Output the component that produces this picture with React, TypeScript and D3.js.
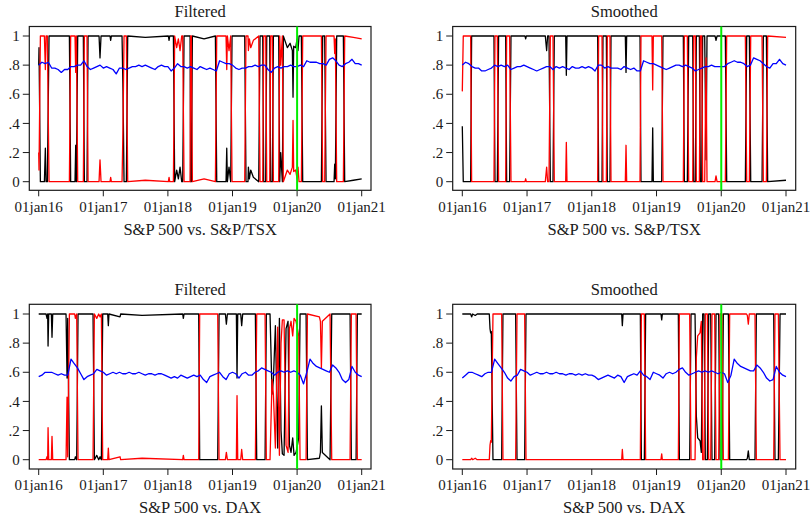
import React from 'react';
import * as d3 from 'd3';

// x axis: dates as decimal years
const yearTicks = [2016, 2017, 2018, 2019, 2020, 2021];
const yearLabels = ['01jan16', '01jan17', '01jan18', '01jan19', '01jan20', '01jan21'];
const probTicks = [0, 0.2, 0.4, 0.6, 0.8, 1];
const probLabels = ['0', '.2', '.4', '.6', '.8', '1'];
const breakDate = 2020; // green marker

// regime probabilities: [date, black (regime 1), red (regime 2)]
const tsxFiltered = [
  [2016.000, 0.80, 0.20], [2016.005, 0.92, 0.08], [2016.026, 0.00, 1.00], [2016.088, 0.00, 1.00],
  [2016.103, 0.23, 0.77], [2016.114, 0.00, 1.00], [2016.134, 0.00, 1.00], [2016.160, 1.00, 0.00],
  [2016.475, 1.00, 0.00], [2016.495, 0.00, 1.00], [2016.562, 0.00, 1.00], [2016.573, 0.25, 0.75],
  [2016.583, 0.00, 1.00], [2016.604, 1.00, 0.00], [2016.691, 1.00, 0.00], [2016.707, 0.00, 1.00],
  [2016.748, 0.00, 1.00], [2016.764, 1.00, 0.00], [2016.934, 1.00, 0.00], [2016.949, 0.85, 0.15],
  [2016.965, 1.00, 0.00], [2017.104, 1.00, 0.00], [2017.114, 0.97, 0.03], [2017.125, 1.00, 0.00],
  [2017.290, 1.00, 0.00], [2017.305, 0.62, 0.38], [2017.321, 0.00, 1.00], [2017.357, 0.00, 1.00],
  [2017.378, 1.00, 0.00], [2017.650, 0.99, 0.01], [2018.007, 1.00, 0.00], [2018.018, 0.97, 0.03],
  [2018.028, 1.00, 0.00], [2018.085, 1.00, 0.00], [2018.105, 0.00, 1.00], [2018.136, 0.08, 0.92],
  [2018.162, 0.02, 0.98], [2018.188, 0.10, 0.90], [2018.214, 0.00, 1.00], [2018.229, 0.00, 1.00],
  [2018.250, 1.00, 0.00], [2018.343, 1.00, 0.00], [2018.353, 0.00, 1.00], [2018.363, 0.00, 1.00],
  [2018.379, 1.00, 0.00], [2018.560, 0.98, 0.02], [2018.735, 1.00, 0.00], [2018.756, 0.00, 1.00],
  [2018.900, 0.00, 1.00], [2018.911, 0.23, 0.77], [2018.921, 0.00, 1.00], [2018.946, 0.10, 0.90],
  [2018.972, 0.00, 1.00], [2018.993, 1.00, 0.00], [2019.189, 1.00, 0.00], [2019.209, 0.00, 1.00],
  [2019.240, 0.00, 1.00], [2019.246, 0.10, 0.90], [2019.261, 0.02, 0.98], [2019.282, 0.08, 0.92],
  [2019.323, 0.03, 0.97], [2019.406, 0.00, 1.00], [2019.426, 1.00, 0.00], [2019.468, 1.00, 0.00],
  [2019.483, 0.00, 1.00], [2019.514, 0.00, 1.00], [2019.530, 1.00, 0.00], [2019.576, 1.00, 0.00],
  [2019.591, 0.00, 1.00], [2019.617, 0.00, 1.00], [2019.633, 1.00, 0.00], [2019.715, 1.00, 0.00],
  [2019.731, 0.00, 1.00], [2019.746, 0.20, 0.80], [2019.772, 0.00, 1.00], [2019.787, 1.00, 0.00],
  [2019.849, 0.92, 0.08], [2019.891, 0.95, 0.05], [2019.927, 0.90, 0.10], [2019.937, 0.58, 0.42],
  [2019.947, 0.93, 0.07], [2019.978, 0.92, 0.08], [2020.000, 0.98, 0.02], [2020.014, 0.90, 0.10],
  [2020.030, 1.00, 0.00], [2020.066, 1.00, 0.00], [2020.087, 0.00, 1.00], [2020.376, 0.00, 1.00],
  [2020.396, 1.00, 0.00], [2020.427, 1.00, 0.00], [2020.448, 0.00, 1.00], [2020.572, 0.00, 1.00],
  [2020.582, 0.12, 0.88], [2020.592, 0.02, 0.98], [2020.613, 1.00, 0.00], [2020.716, 1.00, 0.00],
  [2020.737, 0.00, 1.00], [2020.871, 0.01, 0.99], [2021.000, 0.02, 0.98],
];

const tsxSmoothed = [
  [2016.000, 0.38, 0.62], [2016.015, 0.00, 1.00], [2016.129, 0.00, 1.00], [2016.144, 1.00, 0.00],
  [2016.489, 1.00, 0.00], [2016.505, 0.00, 1.00], [2016.541, 0.00, 1.00], [2016.561, 1.00, 0.00],
  [2016.670, 1.00, 0.00], [2016.685, 0.00, 1.00], [2016.731, 0.00, 1.00], [2016.752, 1.00, 0.00],
  [2016.968, 1.00, 0.00], [2016.979, 0.98, 0.02], [2016.989, 1.00, 0.00], [2017.282, 1.00, 0.00],
  [2017.303, 0.90, 0.10], [2017.318, 1.00, 0.00], [2017.339, 1.00, 0.00], [2017.360, 0.00, 1.00],
  [2017.401, 0.00, 1.00], [2017.421, 1.00, 0.00], [2017.597, 1.00, 0.00], [2017.607, 0.73, 0.27],
  [2017.617, 1.00, 0.00], [2018.091, 1.00, 0.00], [2018.106, 0.00, 1.00], [2018.158, 0.00, 1.00],
  [2018.173, 1.00, 0.00], [2018.225, 1.00, 0.00], [2018.240, 0.00, 1.00], [2018.281, 0.00, 1.00],
  [2018.297, 1.00, 0.00], [2018.518, 1.00, 0.00], [2018.529, 0.75, 0.25], [2018.539, 1.00, 0.00],
  [2018.745, 1.00, 0.00], [2018.760, 0.00, 1.00], [2018.930, 0.00, 1.00], [2018.941, 0.37, 0.63],
  [2018.951, 0.00, 1.00], [2019.080, 0.00, 1.00], [2019.100, 1.00, 0.00], [2019.414, 1.00, 0.00],
  [2019.430, 0.00, 1.00], [2019.476, 0.00, 1.00], [2019.497, 1.00, 0.00], [2019.559, 1.00, 0.00],
  [2019.574, 0.00, 1.00], [2019.600, 0.00, 1.00], [2019.615, 1.00, 0.00], [2019.662, 1.00, 0.00],
  [2019.677, 0.00, 1.00], [2019.698, 0.00, 1.00], [2019.713, 1.00, 0.00], [2019.744, 1.00, 0.00],
  [2019.765, 0.15, 0.85], [2019.780, 1.00, 0.00], [2019.904, 1.00, 0.00], [2019.919, 0.97, 0.04],
  [2019.935, 1.00, 0.00], [2020.063, 1.00, 0.00], [2020.084, 0.00, 1.00], [2020.372, 0.00, 1.00],
  [2020.393, 1.00, 0.00], [2020.434, 1.00, 0.00], [2020.455, 0.00, 1.00], [2020.630, 0.00, 1.00],
  [2020.650, 1.00, 0.00], [2020.697, 1.00, 0.00], [2020.717, 0.00, 1.00], [2021.000, 0.01, 0.99],
];

const daxFiltered = [
  [2016.000, 1.00, 0.00], [2016.114, 1.00, 0.00], [2016.129, 0.97, 0.02], [2016.139, 1.00, 0.00],
  [2016.145, 0.78, 0.22], [2016.155, 1.00, 0.00], [2016.196, 1.00, 0.00], [2016.206, 0.84, 0.16],
  [2016.217, 1.00, 0.00], [2016.423, 1.00, 0.00], [2016.439, 0.56, 0.43], [2016.449, 0.97, 0.02],
  [2016.459, 0.60, 0.40], [2016.475, 0.00, 1.00], [2016.557, 0.00, 1.00], [2016.568, 0.02, 0.97],
  [2016.588, 0.00, 1.00], [2016.609, 1.00, 0.00], [2016.841, 1.00, 0.00], [2016.862, 0.00, 1.00],
  [2016.898, 0.03, 0.97], [2016.929, 0.00, 1.00], [2016.950, 0.02, 0.98], [2016.970, 0.00, 1.00],
  [2016.991, 1.00, 0.00], [2017.068, 1.00, 0.00], [2017.078, 0.92, 0.08], [2017.088, 1.00, 0.00],
  [2017.259, 0.98, 0.02], [2017.269, 1.00, 0.00], [2017.600, 0.99, 0.01], [2018.229, 1.00, 0.00],
  [2018.239, 0.97, 0.03], [2018.250, 1.00, 0.00], [2018.477, 1.00, 0.00], [2018.492, 0.00, 1.00],
  [2018.771, 0.00, 1.00], [2018.792, 1.00, 0.00], [2018.890, 1.00, 0.00], [2018.905, 0.93, 0.05],
  [2018.921, 1.00, 0.00], [2019.060, 1.00, 0.00], [2019.070, 0.56, 0.44], [2019.081, 1.00, 0.00],
  [2019.127, 1.00, 0.00], [2019.142, 0.92, 0.07], [2019.158, 1.00, 0.00], [2019.354, 1.00, 0.00],
  [2019.375, 0.00, 1.00], [2019.504, 0.00, 1.00], [2019.524, 1.00, 0.00], [2019.581, 1.00, 0.00],
  [2019.612, 0.45, 0.55], [2019.633, 0.55, 0.45], [2019.664, 0.92, 0.08], [2019.700, 0.08, 0.91],
  [2019.726, 0.97, 0.03], [2019.751, 0.20, 0.80], [2019.772, 0.04, 0.96], [2019.798, 0.03, 0.96],
  [2019.829, 0.90, 0.10], [2019.860, 0.95, 0.05], [2019.881, 0.10, 0.90], [2019.906, 0.05, 0.95],
  [2019.932, 0.15, 0.85], [2019.953, 0.03, 0.97], [2019.984, 0.05, 0.95], [2020.005, 0.10, 0.90],
  [2020.025, 0.15, 0.85], [2020.046, 1.00, 0.00], [2020.139, 1.00, 0.00], [2020.160, 0.00, 1.00],
  [2020.345, 0.01, 0.98], [2020.361, 0.05, 0.95], [2020.376, 0.37, 0.63], [2020.391, 0.05, 0.95],
  [2020.510, 0.00, 1.00], [2020.536, 1.00, 0.00], [2020.820, 1.00, 0.00], [2020.840, 0.00, 1.00],
  [2020.913, 0.00, 1.00], [2020.933, 1.00, 0.00], [2021.000, 1.00, 0.00],
];

const daxSmoothed = [
  [2016.000, 1.00, 0.00], [2016.129, 1.00, 0.00], [2016.144, 0.98, 0.01], [2016.160, 1.00, 0.00],
  [2016.200, 0.99, 0.01], [2016.230, 1.00, 0.00], [2016.417, 1.00, 0.00], [2016.428, 0.90, 0.10],
  [2016.438, 0.87, 0.13], [2016.448, 0.88, 0.12], [2016.474, 0.00, 1.00], [2016.608, 0.00, 1.00],
  [2016.628, 1.00, 0.00], [2016.824, 1.00, 0.00], [2016.845, 0.00, 1.00], [2016.963, 0.00, 1.00],
  [2016.984, 1.00, 0.00], [2018.462, 1.00, 0.00], [2018.472, 0.92, 0.07], [2018.483, 1.00, 0.00],
  [2018.750, 1.00, 0.00], [2018.766, 0.00, 1.00], [2018.812, 0.00, 1.00], [2018.832, 1.00, 0.00],
  [2019.069, 1.00, 0.00], [2019.080, 0.96, 0.04], [2019.090, 1.00, 0.00], [2019.337, 1.00, 0.00],
  [2019.353, 0.00, 1.00], [2019.512, 0.00, 1.00], [2019.533, 1.00, 0.00], [2019.595, 1.00, 0.00],
  [2019.615, 0.30, 0.70], [2019.636, 0.15, 0.85], [2019.672, 0.13, 0.87], [2019.692, 0.05, 0.95],
  [2019.713, 1.00, 0.00], [2019.734, 1.00, 0.00], [2019.754, 0.00, 1.00], [2019.785, 0.00, 1.00],
  [2019.806, 1.00, 0.00], [2019.837, 1.00, 0.00], [2019.857, 0.00, 1.00], [2019.898, 0.00, 1.00],
  [2019.919, 1.00, 0.00], [2019.960, 1.00, 0.00], [2019.981, 0.00, 1.00], [2020.012, 0.00, 1.00],
  [2020.032, 1.00, 0.00], [2020.110, 1.00, 0.00], [2020.130, 0.00, 1.00], [2020.390, 0.00, 1.00],
  [2020.403, 0.01, 0.99], [2020.418, 0.06, 0.93], [2020.433, 0.00, 1.00], [2020.521, 0.00, 1.00],
  [2020.542, 1.00, 0.00], [2020.810, 1.00, 0.00], [2020.830, 0.00, 1.00], [2020.882, 0.00, 1.00],
  [2020.908, 1.00, 0.00], [2021.000, 1.00, 0.00],
];

// blue series, sampled every 0.05 year from 2016
const corrStart = 2016;
const corrStep = 0.05;

const tsxFilteredCorr = [
  0.80, 0.82, 0.81, 0.82, 0.78, 0.78, 0.77, 0.75, 0.77, 0.77,
  0.79, 0.79, 0.80, 0.80, 0.83, 0.79, 0.77, 0.78, 0.79, 0.80,
  0.78, 0.79, 0.78, 0.77, 0.74, 0.78, 0.78, 0.77, 0.78, 0.79,
  0.79, 0.80, 0.79, 0.80, 0.79, 0.78, 0.77, 0.79, 0.80, 0.79,
  0.79, 0.76, 0.78, 0.81, 0.79, 0.79, 0.78, 0.79, 0.78, 0.77,
  0.79, 0.78, 0.77, 0.78, 0.77, 0.76, 0.83, 0.82, 0.81, 0.81,
  0.80, 0.78, 0.77, 0.78, 0.78, 0.79, 0.79, 0.80, 0.79, 0.80,
  0.80, 0.77, 0.75, 0.78, 0.79, 0.78, 0.79, 0.79, 0.80, 0.79,
  0.79, 0.80, 0.79, 0.83, 0.82, 0.82, 0.82, 0.81, 0.81, 0.80,
  0.84, 0.85, 0.83, 0.80, 0.79, 0.81, 0.82, 0.84, 0.81, 0.81,
  0.80,
];

const tsxSmoothedCorr = [
  0.80, 0.82, 0.81, 0.79, 0.78, 0.78, 0.76, 0.76, 0.77, 0.78,
  0.80, 0.79, 0.80, 0.79, 0.80, 0.77, 0.78, 0.79, 0.79, 0.80,
  0.79, 0.78, 0.77, 0.76, 0.77, 0.78, 0.79, 0.79, 0.77, 0.79,
  0.78, 0.79, 0.78, 0.77, 0.79, 0.78, 0.78, 0.79, 0.78, 0.79,
  0.78, 0.76, 0.80, 0.80, 0.78, 0.79, 0.78, 0.78, 0.78, 0.77,
  0.79, 0.78, 0.77, 0.78, 0.76, 0.76, 0.83, 0.82, 0.81, 0.81,
  0.80, 0.79, 0.78, 0.77, 0.78, 0.79, 0.80, 0.80, 0.79, 0.80,
  0.79, 0.78, 0.76, 0.77, 0.78, 0.79, 0.79, 0.80, 0.79, 0.79,
  0.79, 0.79, 0.81, 0.82, 0.83, 0.82, 0.82, 0.81, 0.79, 0.80,
  0.85, 0.84, 0.83, 0.81, 0.79, 0.78, 0.81, 0.81, 0.84, 0.81,
  0.80,
];

const daxFilteredCorr = [
  0.57, 0.58, 0.60, 0.60, 0.60, 0.59, 0.58, 0.59, 0.58, 0.58,
  0.69, 0.66, 0.63, 0.59, 0.55, 0.57, 0.58, 0.59, 0.62, 0.61,
  0.60, 0.58, 0.59, 0.60, 0.59, 0.60, 0.59, 0.59, 0.60, 0.59,
  0.59, 0.60, 0.59, 0.58, 0.59, 0.59, 0.58, 0.59, 0.59, 0.58,
  0.57, 0.56, 0.57, 0.56, 0.58, 0.57, 0.56, 0.57, 0.58, 0.57,
  0.58, 0.55, 0.53, 0.57, 0.58, 0.59, 0.60, 0.57, 0.55, 0.59,
  0.60, 0.59, 0.56, 0.59, 0.60, 0.58, 0.58, 0.60, 0.61, 0.63,
  0.62, 0.61, 0.60, 0.58, 0.60, 0.61, 0.60, 0.61, 0.60, 0.61,
  0.60, 0.58, 0.52, 0.60, 0.69, 0.66, 0.64, 0.63, 0.62, 0.61,
  0.60, 0.65, 0.63, 0.60, 0.55, 0.53, 0.55, 0.64, 0.60, 0.58,
  0.57,
];

const daxSmoothedCorr = [
  0.56, 0.58, 0.60, 0.60, 0.59, 0.58, 0.57, 0.59, 0.60, 0.60,
  0.69, 0.66, 0.63, 0.60, 0.56, 0.54, 0.57, 0.58, 0.62, 0.61,
  0.60, 0.58, 0.59, 0.60, 0.59, 0.59, 0.60, 0.59, 0.59, 0.60,
  0.59, 0.59, 0.58, 0.59, 0.59, 0.58, 0.59, 0.58, 0.59, 0.58,
  0.58, 0.57, 0.55, 0.56, 0.57, 0.58, 0.57, 0.56, 0.58, 0.57,
  0.53, 0.57, 0.58, 0.59, 0.58, 0.61, 0.58, 0.57, 0.55, 0.60,
  0.59, 0.58, 0.56, 0.59, 0.60, 0.59, 0.60, 0.62, 0.63, 0.60,
  0.58, 0.59, 0.60, 0.61, 0.60, 0.61, 0.60, 0.61, 0.60, 0.59,
  0.60, 0.59, 0.53, 0.58, 0.69, 0.66, 0.64, 0.63, 0.62, 0.61,
  0.61, 0.65, 0.63, 0.60, 0.56, 0.54, 0.55, 0.64, 0.60, 0.58,
  0.57,
];

// panel geometry
const COLS = [
  { left: 29.3, right: 371, x0: 38.7, x1: 361.7 },
  { left: 452.7, right: 795.7, x0: 462.3, x1: 786 },
];
const ROWS = [
  { top: 26.5, bottom: 190.3, y1: 36, y0: 181.7, titleY: 16.7, tickY: 212, subY: 235 },
  { top: 304.3, bottom: 469, y1: 314, y0: 459.7, titleY: 295, tickY: 490, subY: 513 },
];

const panels = [
  { title: 'Filtered', sub: 'S&P 500 vs. S&P/TSX', regime: tsxFiltered, corr: tsxFilteredCorr, col: 0, row: 0 },
  { title: 'Smoothed', sub: 'S&P 500 vs. S&P/TSX', regime: tsxSmoothed, corr: tsxSmoothedCorr, col: 1, row: 0 },
  { title: 'Filtered', sub: 'S&P 500 vs. DAX', regime: daxFiltered, corr: daxFilteredCorr, col: 0, row: 1 },
  { title: 'Smoothed', sub: 'S&P 500 vs. DAX', regime: daxSmoothed, corr: daxSmoothedCorr, col: 1, row: 1 },
];

const FONT = '"Liberation Serif", "Times New Roman", Times, "DejaVu Serif", serif';

function Panel({ title, sub, regime, corr, col, row }) {
  const c = COLS[col];
  const r = ROWS[row];
  const x = d3.scaleLinear().domain([2016, 2021]).range([c.x0, c.x1]);
  const y = d3.scaleLinear().domain([0, 1]).range([r.y0, r.y1]);

  const black = d3.line().x(d => x(d[0])).y(d => y(d[1]))(regime);
  const red = d3.line().x(d => x(d[0])).y(d => y(d[2]))(regime);
  const blue = d3.line()
    .x((d, i) => x(corrStart + i * corrStep))
    .y(d => y(d))(corr);
  const midX = (c.left + c.right) / 2;
  const txt = { fontFamily: FONT, fill: '#1a1a1a' };

  return (
    <g>
      <text x={midX} y={r.titleY} textAnchor="middle" fontSize={16.5} style={txt}>{title}</text>
      <rect x={c.left} y={r.top} width={c.right - c.left} height={r.bottom - r.top}
        fill="#fff" stroke="#1a1a1a" strokeWidth={1.2} />
      {probTicks.map((t, i) => (
        <g key={'y' + i}>
          <line x1={c.left - 6.5} x2={c.left} y1={y(t)} y2={y(t)} stroke="#1a1a1a" strokeWidth={1} />
          <text x={c.left - 9.5} y={y(t)} dy="0.34em" textAnchor="end" fontSize={15} style={txt}>{probLabels[i]}</text>
        </g>
      ))}
      {yearTicks.map((t, i) => (
        <g key={'x' + i}>
          <line x1={x(t)} x2={x(t)} y1={r.bottom} y2={r.bottom + 6} stroke="#1a1a1a" strokeWidth={1} />
          <text x={x(t)} y={r.tickY} textAnchor="middle" fontSize={15} style={txt}>{yearLabels[i]}</text>
        </g>
      ))}
      <path d={black} fill="none" stroke="#000" strokeWidth={1.3} strokeLinejoin="round" />
      <path d={red} fill="none" stroke="#ff0000" strokeWidth={1.3} strokeLinejoin="round" />
      <path d={blue} fill="none" stroke="#0000ff" strokeWidth={1.3} strokeLinejoin="round" />
      <line x1={x(breakDate)} x2={x(breakDate)} y1={r.top} y2={r.bottom} stroke="#00ee00" strokeWidth={2} />
      <text x={midX} y={r.subY} textAnchor="middle" fontSize={16.5} style={txt}>{sub}</text>
    </g>
  );
}

export default function App() {
  return (
    <div style={{ position: 'absolute', left: 0, top: 0 }}>
      <svg width={810} height={521} style={{ display: 'block', background: '#fff' }}>
        {panels.map((p, i) => <Panel key={i} {...p} />)}
      </svg>
    </div>
  );
}
